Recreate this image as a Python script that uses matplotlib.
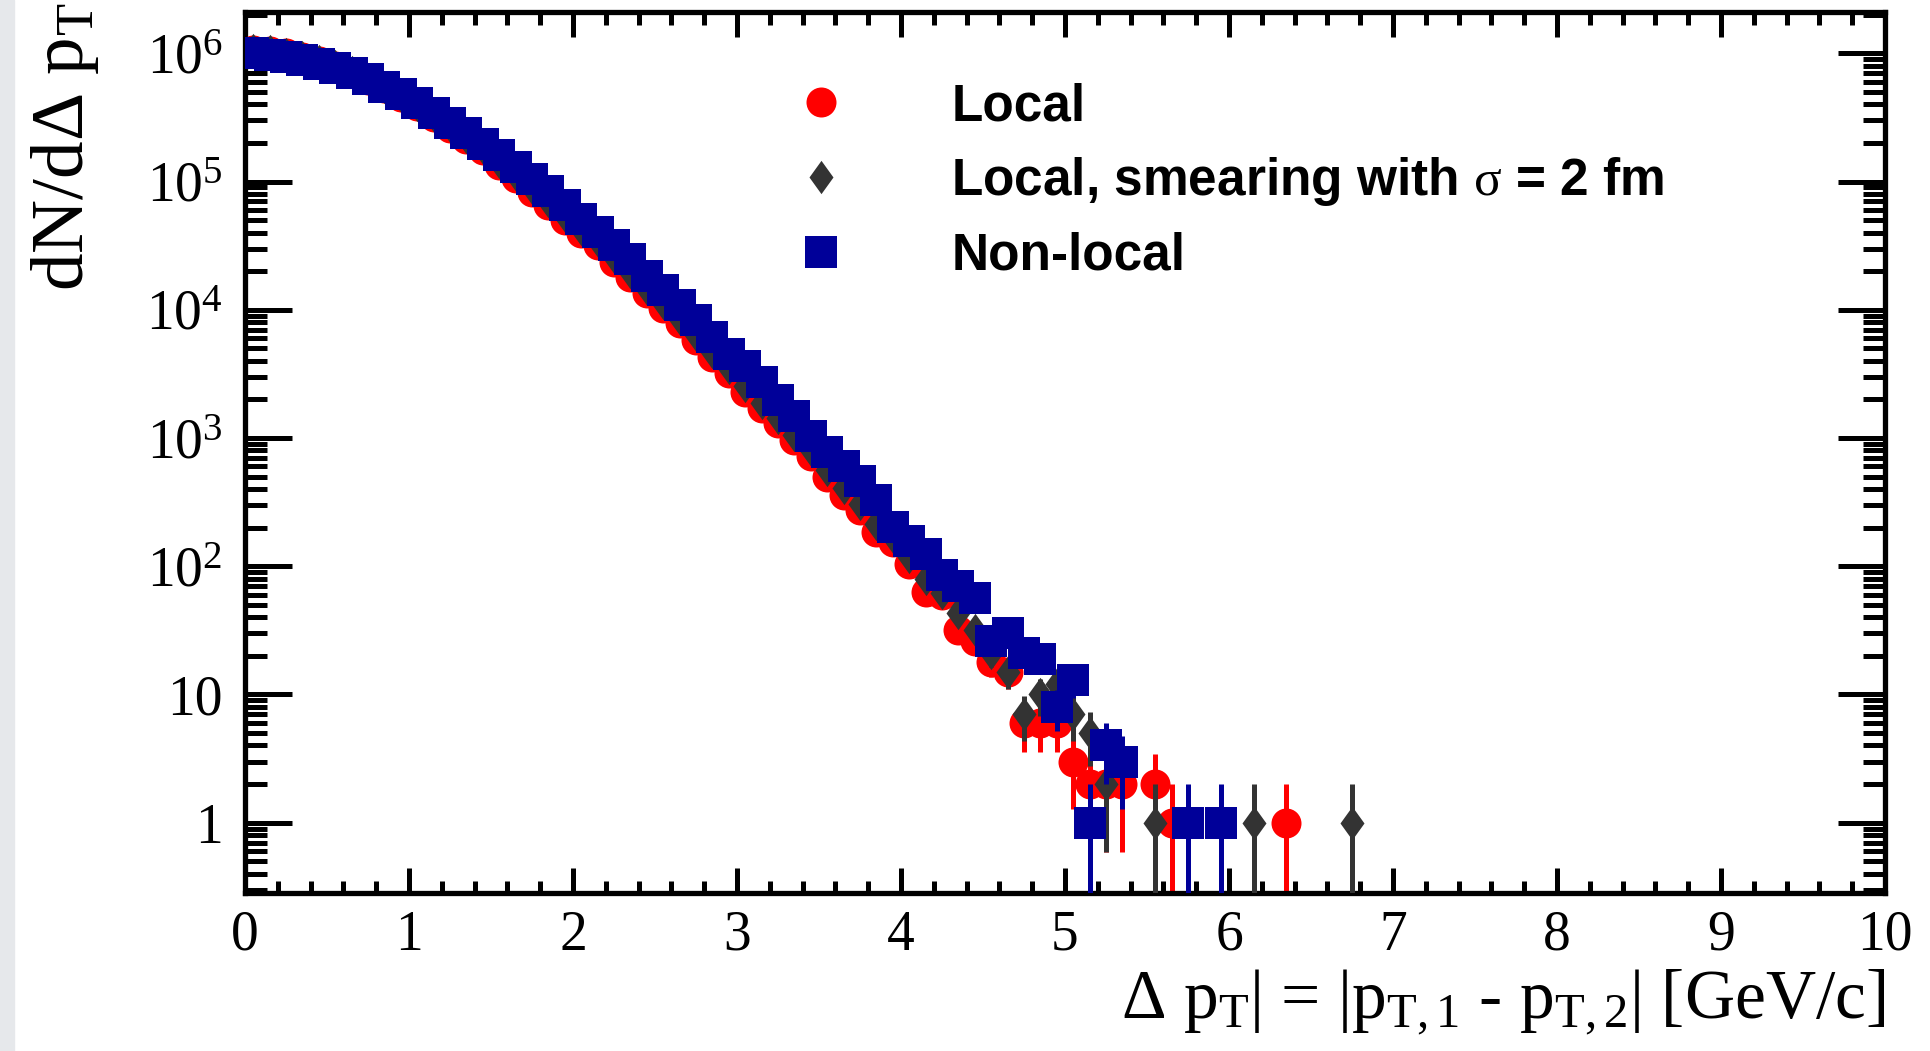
#!/usr/bin/env python3
"""
Delta pT distribution: local vs non-local (ROOT-style log plot)
"""

import numpy as np
import matplotlib
matplotlib.use('Agg')
import matplotlib.pyplot as plt
from matplotlib.path import Path
from matplotlib.patches import Rectangle
from matplotlib.ticker import FixedLocator, MultipleLocator, LogLocator, NullFormatter

plt.rcParams['font.family'] = ['Liberation Serif', 'DejaVu Serif']
plt.rcParams['mathtext.fontset'] = 'custom'
plt.rcParams['mathtext.rm'] = 'Liberation Serif'
plt.rcParams['mathtext.it'] = 'Liberation Serif:italic'
plt.rcParams['mathtext.bf'] = 'Liberation Serif:bold'

# bin centres (0.1 wide bins)
bin_centers = np.round(np.arange(0.05, 7.0, 0.1), 2)

# counts per bin
local = [1070000, 1050000, 1000000, 933000, 871000, 794000, 708000, 617000, 537000, 457000,
         389000, 316000, 263000, 216000, 176000, 135000, 107000, 83200, 65600, 50100,
         39800, 32000, 23700, 18100, 13400, 10300, 7830, 5810, 4310, 3190,
         2300, 1700, 1300, 966, 724, 499, 360, 275, 186, 154,
         105, 63, 60, 32, 26, 18, 15, 6, 6, 6,
         3, 2, 2, 2, 0, 2, 1, 0, 0, 0,
         0, 0, 0, 1, 0, 0, 0, 0, 0, 0]

smeared = [1060000, 1040000, 995000, 935000, 872000, 800000, 712000, 625000, 545000, 466000,
           396000, 325000, 270000, 223000, 183000, 142000, 113000, 88500, 70000, 53600,
           42800, 34300, 25600, 19600, 14500, 11200, 8500, 6350, 4700, 3500,
           2530, 1880, 1430, 1060, 800, 560, 405, 305, 215, 170,
           118, 80, 62, 43, 32, 21, 15, 7, 10, 12,
           7, 5, 2, 0, 0, 1, 0, 0, 0, 0,
           0, 1, 0, 0, 0, 0, 0, 1, 0, 0]

non_local = [1000000, 977000, 933000, 891000, 832000, 771000, 697000, 627000, 546000, 479000,
             407000, 340000, 284000, 240000, 197000, 162000, 131000, 104000, 84000, 65300,
             51300, 40400, 31800, 24700, 18500, 14200, 10900, 8280, 6170, 4500,
             3650, 2740, 1980, 1480, 1030, 782, 605, 462, 327, 203,
             157, 124, 86, 70, 57, 26, 30, 21, 19, 8,
             13, 1, 4, 3, 0, 0, 0, 1, 0, 1,
             0, 0, 0, 0, 0, 0, 0, 0, 0, 0]

series_labels = ["Local",
                 r"Local, smearing with $\mathrm{\sigma}$ = 2 fm",
                 "Non-local"]
series_colors = ['#ff0000', '#333333', '#000099']

x_ticks = [0, 1, 2, 3, 4, 5, 6, 7, 8, 9, 10]
y_ticks = [1, 10, 1e2, 1e3, 1e4, 1e5, 1e6]
y_tick_labels = ["1", "10", r"$10^{2}$", r"$10^{3}$", r"$10^{4}$", r"$10^{5}$", r"$10^{6}$"]

# ROOT-like diamond
diamond = Path([(0, 1), (0.72, 0), (0, -1), (-0.72, 0), (0, 1)],
               [Path.MOVETO, Path.LINETO, Path.LINETO, Path.LINETO, Path.CLOSEPOLY])
markers = ['o', diamond, 's']
msizes = [21.6, 24, 23]

fig = plt.figure(figsize=(19.31, 10.51), dpi=100)
fig.add_artist(Rectangle((0, 0), 14 / 1931, 1, transform=fig.transFigure,
                         color='#e6e8eb', zorder=-5))
ax = fig.add_axes([245 / 1931, 1 - 893 / 1051, 1640 / 1931, 881 / 1051])

handles = []
for i, vals in enumerate([local, smeared, non_local]):
    y = np.array(vals, dtype=float)
    keep = y > 0
    xs = bin_centers[keep]
    ys = y[keep]
    err = np.sqrt(ys)
    ax.errorbar(xs, ys, yerr=err, fmt='none', ecolor=series_colors[i],
                elinewidth=3.6, capsize=0, zorder=2 + 2 * i)
    line, = ax.plot(xs, ys, linestyle='none', marker=markers[i], markersize=msizes[i],
                    markerfacecolor=series_colors[i], markeredgewidth=0,
                    color=series_colors[i], zorder=3 + 2 * i)
    handles.append(line)

ax.set_yscale('log')
ax.set_xlim(0, 10)
ax.set_ylim(0.283, 2.1e6)

ax.xaxis.set_major_locator(FixedLocator(x_ticks))
ax.set_xticklabels([str(t) for t in x_ticks])
ax.xaxis.set_minor_locator(MultipleLocator(0.2))
ax.yaxis.set_major_locator(FixedLocator(y_ticks))
ax.set_yticklabels(y_tick_labels)
ax.yaxis.set_minor_locator(LogLocator(base=10, subs=np.arange(2, 10)))
ax.yaxis.set_minor_formatter(NullFormatter())

ax.tick_params(axis='x', which='major', direction='in', length=18, width=3.6,
               top=True, bottom=True, labelsize=40, pad=12)
ax.tick_params(axis='x', which='minor', direction='in', length=9, width=3.6, top=True)
ax.tick_params(axis='y', which='major', direction='in', length=34, width=3.6,
               right=True, left=True, labelsize=40, pad=16)
ax.tick_params(axis='y', which='minor', direction='in', length=16, width=3.6, right=True)
for sp in ax.spines.values():
    sp.set_linewidth(3.8)

ax.legend(handles=handles, labels=series_labels, loc='upper left',
          bbox_to_anchor=(0.3354, 0.92), frameon=False,
          prop={'family': 'Liberation Sans', 'weight': 'bold', 'size': 37},
          handlelength=1.0, handletextpad=2.04, labelspacing=0.46,
          borderaxespad=0, borderpad=0)

fig.text(29 / 1931, 0.997, r"dN/dΔ p$_{\mathrm{T}}$", rotation=90,
         ha='left', va='top', fontsize=54)
fig.text(1885 / 1931, 1 - 1018 / 1051,
         r"Δ p$_{\mathrm{T}}$| = |p$_{\mathrm{T,1}}$ - p$_{\mathrm{T,2}}$| [GeV/c]",
         ha='right', va='baseline', fontsize=50)

fig.savefig('out.png', dpi=100)
plt.close(fig)
